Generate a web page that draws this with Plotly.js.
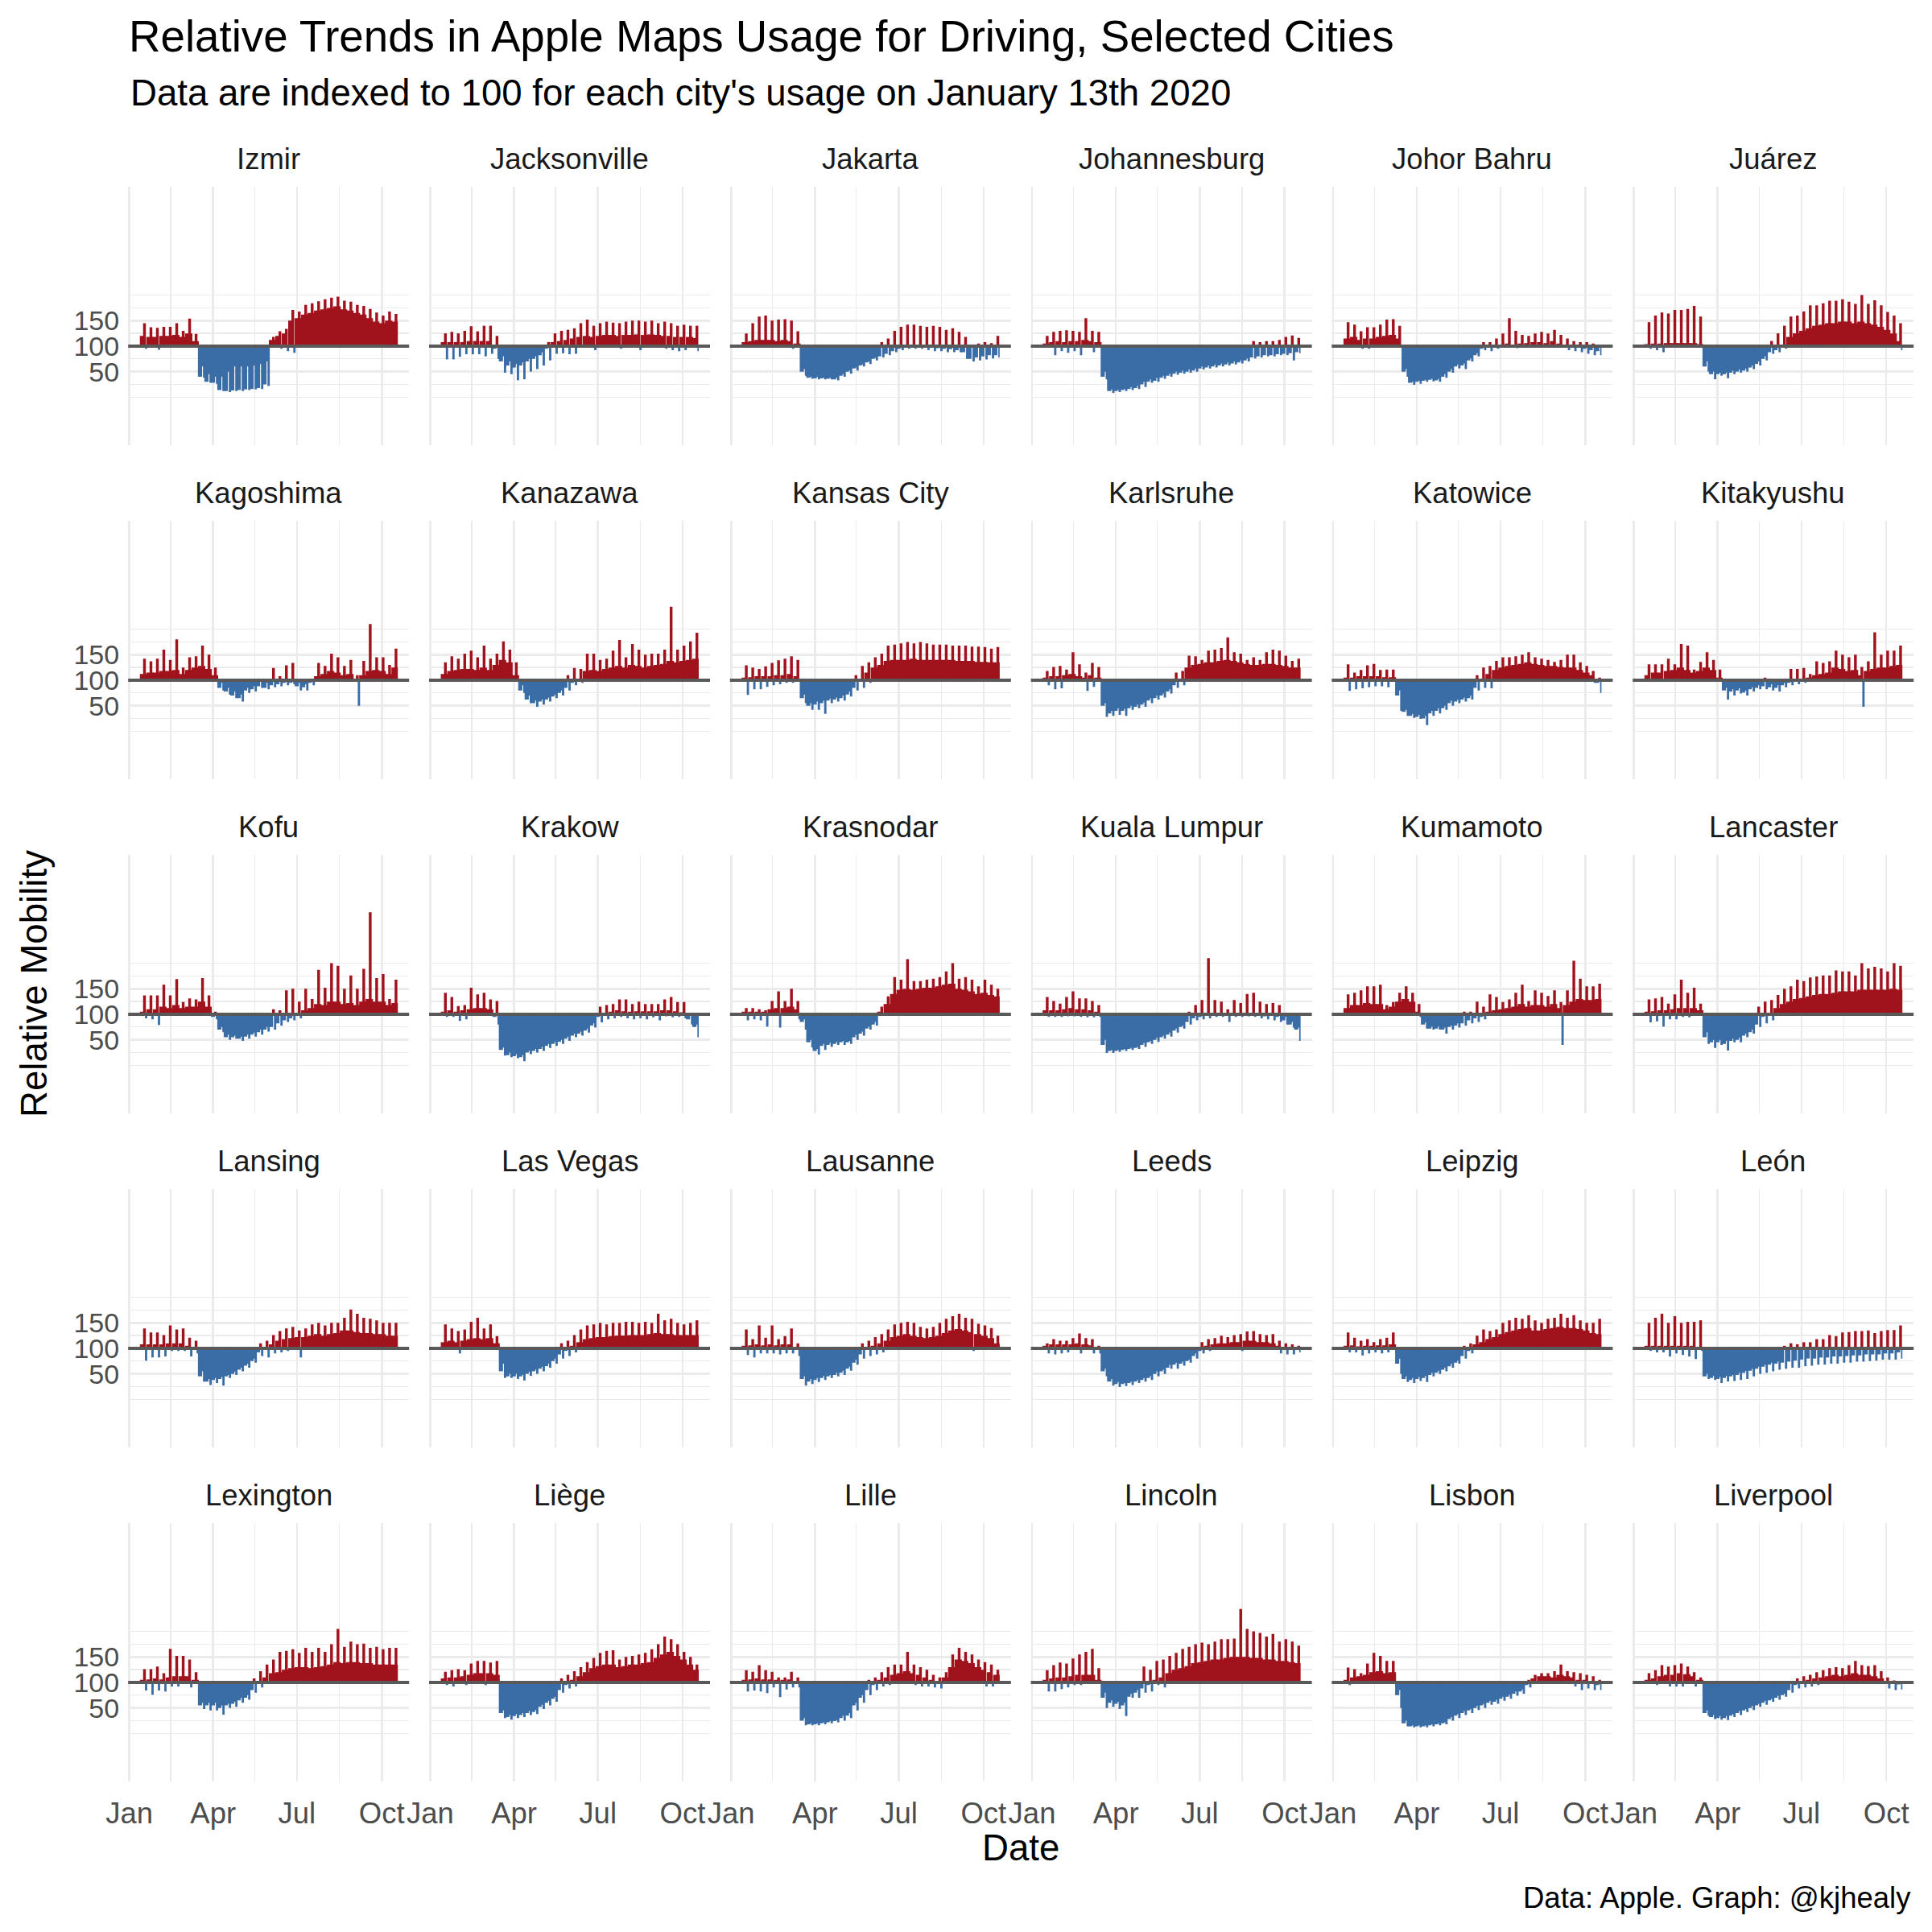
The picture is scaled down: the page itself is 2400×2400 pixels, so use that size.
<!DOCTYPE html>
<html><head><meta charset="utf-8">
<script src="https://cdn.plot.ly/plotly-3.0.1.min.js"></script>
<style>html,body{margin:0;padding:0;background:#fff}</style>
</head><body><div id="chart" style="width:2400px;height:2400px"></div>
<script>
const cities = ["Izmir","Jacksonville","Jakarta","Johannesburg","Johor Bahru","Juárez",
"Kagoshima","Kanazawa","Kansas City","Karlsruhe","Katowice","Kitakyushu",
"Kofu","Krakow","Krasnodar","Kuala Lumpur","Kumamoto","Lancaster",
"Lansing","Las Vegas","Lausanne","Leeds","Leipzig","León",
"Lexington","Liège","Lille","Lincoln","Lisbon","Liverpool"];

// Weekly readings (weeks starting Monday 13 Jan 2020): typical weekday level,
// weekly high days, weekly low day. Indexed so 13 Jan 2020 = 100.
const firstWeek = "2020-01-13";

const mid = [
[120,118,118,120,120,122,118,125,110,40,30,28,14,12,13,14,15,16,18,25,112,120,125,150,155,162,165,170,172,175,178,172,170,165,162,155,148,145,150,148],
[108,108,108,108,110,110,110,110,95,70,62,58,62,70,75,82,95,108,110,112,115,118,120,118,120,122,122,120,122,122,123,122,123,122,120,120,118,118,118,116],
[108,110,112,112,112,110,112,110,105,50,38,37,37,36,35,42,50,56,62,68,75,80,85,90,95,98,100,100,100,98,96,95,94,92,88,75,78,80,82,82],
[105,108,110,108,110,110,112,110,108,40,12,12,14,16,18,25,30,32,38,42,46,48,50,52,56,58,60,62,64,66,68,72,78,80,82,82,84,85,86,88],
[115,118,112,115,115,118,120,122,115,50,28,30,32,34,33,40,50,60,62,72,82,95,98,100,102,105,102,105,106,108,108,106,110,105,102,100,98,95,92,90],
[104,105,105,106,106,106,106,106,104,60,45,45,45,48,50,52,58,65,75,88,92,100,118,125,130,135,140,142,145,145,148,148,145,148,145,142,138,132,125,110],
[112,115,115,118,118,120,112,120,125,128,122,110,85,78,70,65,80,82,88,85,90,92,95,95,88,86,95,108,112,118,115,110,112,100,110,118,120,118,112,125],
[112,118,120,122,122,120,125,120,130,140,135,110,80,62,55,58,62,68,75,85,95,100,118,120,118,122,125,128,125,130,128,125,128,130,132,138,135,138,140,142],
[105,106,108,108,108,110,110,112,108,65,50,52,55,60,62,65,72,85,100,115,125,130,138,140,140,140,142,140,140,140,140,140,140,138,138,138,136,136,135,135],
[105,108,108,110,112,108,105,110,105,50,35,40,40,45,48,52,60,65,70,78,90,98,125,130,132,135,135,138,140,138,135,132,130,130,132,132,130,128,125,125],
[105,105,108,108,108,108,106,106,70,38,30,28,25,35,40,45,55,58,62,65,85,100,112,120,125,128,130,132,135,132,130,128,128,126,125,125,120,115,110,95],
[110,115,115,118,120,125,120,115,118,125,120,105,80,78,80,76,82,85,88,86,85,90,95,98,100,105,110,112,115,125,122,118,120,110,118,122,125,125,128,130],
[105,110,110,115,112,118,112,115,115,125,115,95,70,55,55,52,56,60,65,70,75,82,88,92,100,108,112,120,118,125,125,120,122,118,125,130,125,125,118,122],
[105,108,105,108,110,112,112,110,95,30,20,18,16,25,28,32,38,42,46,52,58,62,68,78,95,102,105,108,106,105,106,106,106,106,108,108,106,104,90,75],
[105,105,105,105,110,112,112,115,110,85,45,28,38,40,42,45,45,55,62,72,80,105,120,140,148,150,148,150,152,152,155,158,160,150,148,145,140,142,138,135],
[108,108,108,110,112,110,110,108,105,40,28,28,30,32,34,40,45,50,55,60,68,75,85,92,95,100,100,102,98,100,100,102,102,100,96,98,95,88,80,70],
[112,118,118,122,120,120,110,115,125,130,125,105,80,72,72,70,75,78,82,88,92,95,105,108,110,112,115,120,115,118,118,115,120,112,118,125,130,128,128,130],
[105,106,108,108,110,112,112,112,108,55,45,45,42,48,50,58,65,80,95,102,112,120,125,130,132,135,138,140,140,142,145,145,145,148,148,148,148,148,150,148],
[108,108,108,108,110,110,110,105,100,45,35,38,40,45,50,58,66,75,92,100,108,115,118,120,122,122,125,128,125,128,130,135,135,132,130,130,128,128,125,125],
[112,115,112,115,118,120,118,120,110,55,45,45,45,50,55,60,65,75,88,95,105,112,118,120,122,122,124,125,125,126,126,126,128,130,128,128,126,126,126,126],
[105,106,108,106,108,106,108,108,100,40,35,38,42,45,48,52,60,72,88,98,105,110,115,122,125,128,125,122,120,122,125,130,135,138,135,132,128,125,120,110],
[105,108,108,108,108,110,108,106,100,55,35,30,30,32,35,38,42,50,55,62,68,70,75,85,95,105,108,110,110,112,112,115,115,112,112,110,105,102,100,98],
[105,106,104,105,105,106,106,108,70,40,38,40,42,48,52,58,65,72,85,95,108,112,118,122,128,132,135,138,140,135,135,138,140,142,140,140,138,135,130,128],
[105,105,105,105,105,105,105,105,103,45,42,40,42,45,48,52,56,60,64,68,70,72,74,76,78,80,80,82,82,84,84,85,86,86,88,88,88,90,90,92],
[105,106,108,106,110,112,112,112,105,55,55,55,50,55,58,65,70,85,100,110,118,120,125,128,130,130,128,130,132,135,140,138,140,140,138,138,135,135,135,135],
[108,110,110,112,115,118,118,118,115,40,32,34,36,40,42,52,60,68,85,95,105,112,120,128,132,135,135,130,132,135,135,138,140,148,155,160,152,145,135,125],
[105,106,108,106,106,105,105,106,100,25,18,18,20,22,24,30,35,55,70,85,95,105,110,115,118,122,118,115,110,105,102,110,130,145,142,138,130,125,120,115],
[105,108,110,110,112,115,115,115,105,70,60,58,55,72,80,88,95,105,110,118,125,128,132,138,140,142,145,145,148,150,150,150,148,148,145,145,142,142,140,138],
[105,110,112,115,120,122,118,120,75,20,14,14,14,16,18,20,28,35,40,45,50,55,60,62,68,72,78,82,95,108,112,112,110,115,112,110,105,105,100,95],
[105,108,112,115,115,118,116,112,105,40,32,30,30,35,40,45,50,55,60,65,70,75,85,95,102,105,108,110,112,115,112,115,118,115,115,112,108,102,98,96]
];

const up = [
[145,137,136,138,138,145,130,154,124,60,45,40,40,50,60,60,60,62,65,70,118,129,134,171,168,181,184,188,192,195,197,189,187,181,179,173,166,160,168,163],
[125,128,125,130,139,129,140,140,120,80,70,65,68,75,80,88,108,125,130,132,135,145,152,140,145,148,146,145,148,150,150,148,150,145,148,145,140,142,140,140],
[125,145,158,160,150,152,153,150,129,55,40,40,38,38,38,45,52,58,64,70,77,108,115,130,138,142,142,140,138,140,138,132,135,128,118,100,105,108,106,120],
[120,128,130,131,130,128,155,130,128,50,15,14,16,20,22,30,35,38,42,46,50,52,54,56,60,62,64,66,68,70,72,76,110,108,110,110,112,118,121,116],
[147,142,129,137,137,142,152,153,140,55,30,32,34,36,36,45,55,64,66,76,86,108,108,115,125,155,130,122,120,125,128,125,132,122,115,110,108,108,105,102],
[147,160,166,164,171,171,173,179,158,70,50,48,48,52,54,56,62,70,80,110,125,140,158,160,168,180,180,184,189,189,192,187,183,200,183,190,180,167,160,145],
[142,137,142,160,140,180,125,145,147,168,150,125,95,85,78,72,85,88,100,95,124,108,129,134,95,92,100,134,128,152,145,128,140,110,138,210,145,145,130,162],
[135,147,142,152,158,145,168,142,152,176,160,135,90,70,60,62,66,72,80,110,124,122,152,152,140,142,158,179,145,171,160,150,152,152,160,244,160,168,176,193],
[129,125,122,127,134,139,142,147,140,72,55,58,60,64,66,70,78,110,128,135,145,152,168,170,172,175,172,175,172,170,170,170,168,168,168,166,166,165,162,165],
[118,126,128,121,155,131,115,134,126,55,40,45,44,50,52,56,65,70,74,82,115,118,148,147,140,158,160,163,184,155,152,140,145,140,155,160,158,148,138,142],
[131,115,120,129,132,120,121,121,80,42,34,32,30,40,45,50,60,62,66,70,110,125,128,138,145,145,147,150,155,145,142,140,136,140,150,150,135,128,118,105],
[131,131,131,142,131,171,168,121,136,155,140,121,85,82,84,80,86,90,105,92,90,95,122,122,124,112,137,134,137,158,150,145,150,126,137,194,150,158,158,168],
[137,137,137,158,137,169,124,131,129,171,137,105,75,60,58,56,60,64,70,75,110,108,147,150,125,150,130,187,152,200,195,150,176,150,189,300,171,179,130,168],
[142,134,116,118,152,139,142,129,126,35,25,22,20,28,32,36,42,46,50,56,62,66,72,82,115,118,120,129,129,120,125,120,120,120,129,134,124,124,100,80],
[112,112,110,108,126,145,126,150,126,90,50,32,42,44,46,48,48,60,66,76,85,115,135,173,168,208,165,165,168,170,173,184,200,170,173,168,155,168,158,150],
[134,126,121,134,145,131,131,126,118,50,30,30,32,34,36,44,48,54,58,64,72,78,105,118,128,210,128,125,110,128,122,140,142,125,120,122,118,95,85,74],
[139,142,147,155,155,158,118,124,142,155,142,120,84,76,76,74,78,82,105,105,125,115,139,134,124,129,142,158,126,147,142,136,147,124,147,205,170,155,155,160],
[129,131,134,121,139,168,142,152,121,65,50,50,48,52,54,62,70,115,125,128,138,150,155,168,165,172,174,176,176,186,184,184,176,200,190,193,190,184,200,195],
[139,131,131,126,145,137,139,121,115,55,40,42,44,48,54,62,70,80,110,115,126,134,139,142,135,139,147,150,145,150,150,160,176,168,160,158,155,150,150,150],
[147,139,134,137,152,160,139,147,124,70,50,50,48,54,58,64,70,80,110,115,126,137,145,147,150,147,150,150,152,152,150,152,150,168,155,158,150,147,150,155],
[137,118,145,121,145,118,124,139,110,45,40,42,46,48,52,56,64,78,110,115,122,128,137,147,150,152,150,142,139,142,150,158,163,168,160,158,148,145,140,125],
[110,118,115,115,120,129,120,118,105,60,40,34,32,35,38,42,46,55,58,68,72,74,78,90,112,118,120,125,122,126,128,133,134,128,126,128,115,110,108,105],
[131,121,115,118,112,118,121,131,80,45,42,44,46,52,56,62,70,76,105,110,125,137,134,137,150,155,160,158,165,155,150,158,160,168,160,165,155,150,150,158],
[150,160,168,150,163,150,152,152,155,50,46,44,46,48,52,56,60,64,68,72,74,105,110,108,112,112,118,118,126,124,131,132,134,134,135,130,134,136,136,145],
[126,126,131,118,166,152,152,145,120,60,60,60,55,58,62,70,75,108,122,135,145,160,162,165,158,168,160,168,160,175,205,170,180,175,176,168,170,165,168,168],
[121,124,126,124,137,142,142,139,142,45,36,38,40,44,46,56,64,72,108,115,122,130,140,148,158,162,163,145,150,152,155,158,165,175,190,185,175,160,150,135],
[124,121,134,124,121,110,110,121,110,30,20,20,22,24,26,35,40,60,75,105,110,120,130,135,135,160,135,130,125,115,110,120,155,168,160,155,145,140,135,125],
[124,134,139,137,147,155,160,166,128,80,65,62,60,78,85,131,125,142,145,152,158,166,170,175,178,175,180,185,185,186,244,205,200,197,190,195,180,185,180,172],
[129,126,118,137,158,152,142,142,85,25,16,16,16,18,20,22,32,38,44,48,54,58,64,66,72,76,82,86,105,115,118,118,122,135,122,120,118,115,112,105],
[118,124,134,131,134,137,131,120,110,45,36,34,34,38,44,48,54,58,64,68,74,78,100,108,112,115,120,124,128,130,128,134,142,134,132,134,122,110,104,102]
];

const dn = [
[95,118,93,120,120,122,118,125,110,38,28,26,12,10,12,12,14,15,16,22,112,95,90,87,155,162,165,170,172,175,178,172,170,165,162,155,148,145,150,148],
[74,74,79,84,84,84,80,85,75,48,45,33,35,50,55,62,72,85,86,84,85,100,120,92,120,122,122,95,122,122,92,122,123,122,95,92,90,92,118,90],
[108,110,112,112,112,110,112,95,105,42,36,35,35,35,33,40,46,52,60,65,72,78,82,88,92,95,95,95,92,90,90,88,88,88,75,70,72,74,76,78],
[105,82,90,87,90,82,112,88,108,35,8,10,12,14,16,20,28,30,36,40,44,46,48,50,54,56,58,60,62,64,66,70,76,78,80,80,82,82,72,86],
[115,118,95,95,115,118,120,122,98,40,24,26,30,31,30,38,48,56,55,70,80,92,90,95,98,100,96,98,100,100,100,100,102,98,92,90,88,85,82,82],
[95,92,88,106,106,106,106,106,104,50,35,42,37,45,48,50,55,62,72,85,88,95,118,125,130,135,140,142,145,145,148,148,145,148,145,142,138,132,125,92],
[112,115,115,118,118,120,112,120,125,128,122,110,80,72,65,58,75,78,85,82,86,88,90,92,80,80,90,108,112,118,115,110,112,50,110,118,120,118,112,125],
[112,118,120,122,122,120,125,120,130,140,135,110,75,55,48,52,58,65,70,80,90,95,118,120,118,122,125,128,125,130,128,125,128,130,132,138,135,138,140,142],
[71,82,82,87,90,92,95,95,100,55,42,42,34,55,58,60,68,80,85,95,125,130,138,140,140,140,142,140,140,140,140,140,140,138,138,138,136,136,135,135],
[90,82,84,110,112,108,79,87,105,28,30,32,30,42,45,48,55,62,66,74,85,90,125,130,132,135,135,138,140,138,135,132,130,130,132,132,130,128,125,125],
[79,82,84,86,88,88,86,106,40,30,26,24,12,30,35,42,50,55,58,62,80,85,84,120,125,128,130,132,135,132,130,128,128,126,125,125,120,115,95,75],
[97,115,97,118,120,125,120,115,118,125,120,105,62,70,74,70,78,82,82,80,78,86,90,92,95,105,110,112,115,125,122,118,120,48,118,122,125,125,128,130],
[92,90,79,115,112,118,112,115,115,125,115,90,65,50,52,48,52,56,60,66,70,78,85,88,92,108,112,120,118,125,125,120,122,118,125,130,125,125,118,122],
[95,95,87,90,110,112,112,110,80,19,16,14,8,22,25,28,34,38,42,48,55,58,64,74,84,90,92,95,92,90,92,90,94,88,96,94,95,92,80,55],
[88,90,88,76,110,74,112,115,90,70,35,21,30,36,40,40,42,50,58,70,78,98,120,140,148,150,148,150,152,152,155,158,160,150,148,145,140,142,138,135],
[95,95,95,96,96,95,94,94,95,24,24,26,28,30,32,36,42,46,52,56,64,72,80,88,90,92,95,95,85,95,95,96,95,92,90,88,85,80,74,48],
[112,118,118,122,120,120,110,115,125,130,125,95,72,70,70,62,70,74,78,82,85,90,105,108,110,112,115,120,115,118,118,115,120,40,118,125,130,128,128,130],
[84,86,76,90,90,95,94,112,108,42,34,40,29,45,45,55,62,75,82,88,112,120,125,130,132,135,138,140,140,142,145,145,145,148,148,148,148,148,150,148],
[76,82,82,84,95,95,95,84,90,35,28,32,27,42,48,55,62,72,85,82,90,92,95,120,82,122,125,128,125,128,130,135,135,132,130,130,128,128,125,125],
[112,115,90,115,118,120,118,120,110,42,42,40,37,46,50,55,62,70,80,85,92,112,118,120,122,122,124,125,125,126,126,126,128,130,128,128,126,126,126,126],
[87,82,90,90,90,88,90,90,85,27,30,34,38,42,45,48,56,68,80,85,88,92,115,122,125,128,125,122,120,122,125,130,135,138,135,95,128,125,120,110],
[90,88,90,92,108,90,108,90,90,45,27,24,26,28,32,35,38,45,50,60,60,66,72,80,90,95,108,110,110,112,95,115,115,112,112,110,90,88,88,92],
[92,92,86,90,92,90,92,108,50,34,32,36,34,45,50,55,62,70,80,90,108,112,118,122,128,132,135,138,140,135,135,138,140,142,140,140,138,135,130,128],
[95,92,92,84,90,87,84,79,95,40,38,32,35,36,38,40,45,50,52,55,58,60,62,62,65,66,68,68,70,70,72,72,74,74,75,76,78,78,78,80],
[84,76,84,82,92,92,112,90,105,48,45,45,37,50,52,60,66,80,90,100,118,120,125,128,130,130,128,130,132,135,140,138,140,140,138,138,135,135,135,135],
[95,92,110,95,115,118,95,118,115,30,27,30,32,36,38,48,55,62,80,88,92,112,120,128,132,135,135,130,132,135,135,138,140,148,155,160,152,145,135,125],
[82,84,82,79,90,71,86,90,90,16,16,16,18,20,22,25,30,45,60,75,85,92,95,115,118,122,95,92,92,90,88,110,130,145,142,138,130,92,92,115],
[82,82,87,90,95,95,115,115,105,50,52,48,34,70,70,80,82,95,90,118,125,128,132,138,140,142,145,145,148,150,150,150,148,148,145,145,142,142,140,138],
[95,110,112,115,120,122,118,120,50,14,12,12,12,14,16,18,25,30,36,40,46,50,56,58,64,68,74,78,90,100,112,112,110,115,112,92,85,88,85,85],
[105,95,112,92,92,92,116,92,105,35,28,27,26,32,36,42,46,52,56,62,66,72,80,88,90,92,95,110,112,115,112,115,118,115,115,112,108,88,85,86]
];

const xTickVals = ["2020-01-01","2020-04-01","2020-07-01","2020-10-01"];
const xTickText = ["Jan","Apr","Jul","Oct"];
const xMinorVals = ["2020-02-15","2020-05-16","2020-08-16"];
const yTickVals = [50,100,150];
const yTickText = ["50","100","150"];
const yMinorVals = [0,25,75,125,175,200];

const RED = "#A0121C", BLUE = "#3A6DA6", ZERO = "#595959", GRID = "#EBEBEB";
const FONT = "Liberation Sans, Arial, Helvetica, sans-serif";
const W = 2400, H = 2400, NCOL = 6;
const DAY = 86400000;
const colLeft = k => 159.2 + 373.8 * k, panelW = 349;
const rowTop = r => 231.7 + 415 * r, panelH = 321.6;

function dstr(ms) { return new Date(ms).toISOString().slice(0, 23).replace("T", " "); }
const start = Date.parse(firstWeek + "T00:00:00Z");

const traces = [];
const layout = {
  width: W, height: H, margin: {l: 0, r: 0, t: 0, b: 0},
  paper_bgcolor: "#fff", plot_bgcolor: "#fff", barmode: "overlay", showlegend: false,
  font: {family: FONT, color: "#000"},
  title: {text: "Relative Trends in Apple Maps Usage for Driving, Selected Cities",
          x: 160 / W, xanchor: "left", xref: "paper", yref: "container",
          y: 1 - 45 / H, yanchor: "middle", font: {family: FONT, size: 54.7, color: "#000"}},
  annotations: [], shapes: []
};

// day slots within a week (daily bars centred on midnight, Monday = 0):
// weekday body [-0.5, 3], high days [3, 5], low day [5, 6.5].
// Each bar runs on under the next one (drawn later) so no seams show.
const OV = 1.0;
let bad = [];
cities.forEach((city, i) => {
  if (mid[i].length !== 40 || up[i].length !== 40 || dn[i].length !== 40) bad.push(city + ":" + mid[i].length + "/" + up[i].length + "/" + dn[i].length);
  const xs = [], ys = [], ws = [], cs = [];
  const last = mid[i].length - 1;
  const add = (a, b, mon, v, ov) => {
    const w = (b - a + ov) * DAY;
    xs.push(dstr(mon + a * DAY + w / 2)); ys.push(v - 100); ws.push(w); cs.push(v >= 100 ? RED : BLUE);
  };
  for (let k = 0; k < mid[i].length; k++) {
    const mon = start + k * 7 * DAY;
    add(-0.5, 3, mon, mid[i][k], OV);
    add(3, 5, mon, up[i][k], OV);
    add(5, 6.5, mon, dn[i][k], k === last ? 0 : OV);
  }
  const n = i === 0 ? "" : String(i + 1);
  traces.push({type: "bar", x: xs, y: ys, base: 100, width: ws,
    marker: {color: cs, line: {width: 0}}, xaxis: "x" + n, yaxis: "y" + n,
    hoverinfo: "skip", showlegend: false});

  const r = Math.floor(i / NCOL), c = i % NCOL;
  const x0 = colLeft(c), y0 = rowTop(r);
  layout["xaxis" + n] = {
    type: "date", domain: [x0 / W, (x0 + panelW) / W], anchor: "y" + n,
    range: ["2019-12-30 18:43", "2020-10-30 17:00"],
    tickmode: "array", tickvals: xTickVals, ticktext: xTickText,
    showticklabels: r === 4, ticks: "", ticklabelstandoff: 14,
    tickfont: {family: FONT, size: 36.5, color: "#4D4D4D"},
    showgrid: true, gridcolor: GRID, gridwidth: 2.6,
    minor: {tickmode: "array", tickvals: xMinorVals, showgrid: true, gridcolor: GRID, gridwidth: 1.3, ticks: ""},
    zeroline: false, showline: false, fixedrange: true
  };
  layout["yaxis" + n] = {
    domain: [1 - (y0 + panelH) / H, 1 - y0 / H], anchor: "x" + n,
    range: [-94.7, 413],
    tickmode: "array", tickvals: yTickVals, ticktext: yTickText,
    showticklabels: c === 0, ticks: "", ticklabelstandoff: 10,
    tickfont: {family: FONT, size: 34, color: "#4D4D4D"},
    showgrid: true, gridcolor: GRID, gridwidth: 2.6,
    minor: {tickmode: "array", tickvals: yMinorVals, showgrid: true, gridcolor: GRID, gridwidth: 1.3, ticks: ""},
    zeroline: false, showline: false, fixedrange: true
  };
  layout.shapes.push({type: "line", xref: "x" + n + " domain", x0: 0, x1: 1,
    yref: "y" + n, y0: 100, y1: 100, line: {color: ZERO, width: 4}, layer: "above"});
  layout.annotations.push({text: city, showarrow: false, xref: "paper", yref: "paper",
    x: (x0 + panelW / 2) / W, y: 1 - (y0 - 34) / H, xanchor: "center", yanchor: "middle",
    font: {family: FONT, size: 36.5, color: "#1A1A1A"}});
});

layout.annotations.push(
  {text: "Data are indexed to 100 for each city's usage on January 13th 2020", showarrow: false,
   xref: "paper", yref: "paper", x: 160 / W, y: 1 - 115 / H, xanchor: "left", yanchor: "middle",
   font: {family: FONT, size: 45.6, color: "#000"}},
  {text: "Date", showarrow: false, xref: "paper", yref: "paper", x: 1268 / W, y: 1 - 2295 / H,
   xanchor: "center", yanchor: "middle", font: {family: FONT, size: 45.6, color: "#000"}},
  {text: "Relative Mobility", showarrow: false, xref: "paper", yref: "paper", x: 42 / W, y: 1 - 1222 / H,
   xanchor: "center", yanchor: "middle", textangle: -90, font: {family: FONT, size: 45.6, color: "#000"}},
  {text: "Data: Apple. Graph: @kjhealy", showarrow: false, xref: "paper", yref: "paper", x: 2376 / W, y: 1 - 2357 / H,
   xanchor: "right", yanchor: "middle", font: {family: FONT, size: 36.5, color: "#000"}}
);
if (bad.length) layout.annotations.push({text: "LEN " + bad.join(" "), showarrow: false, xref: "paper", yref: "paper",
  x: 1, y: 1, xanchor: "right", yanchor: "top", font: {size: 20, color: "red"}});

Plotly.newPlot("chart", traces, layout, {displayModeBar: false, staticPlot: true});
</script></body></html>
